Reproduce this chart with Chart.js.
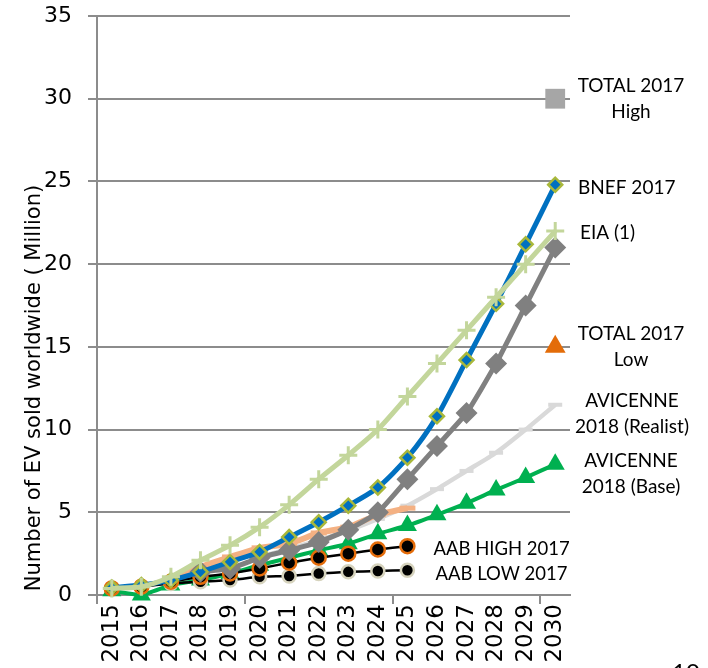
<!DOCTYPE html>
<html>
<head>
<meta charset="utf-8">
<script src="https://cdn.jsdelivr.net/npm/chart.js@4/dist/chart.umd.min.js"></script>
<style>
  html, body { margin: 0; padding: 0; background: #fff; overflow: hidden; }
  #wrap { position: relative; width: 708px; height: 668px; }
</style>
</head>
<body>
<div id="wrap"><canvas id="chart"></canvas></div>
<script>
const years = ['2015', '2016', '2017', '2018', '2019', '2020', '2021', '2022',
  '2023', '2024', '2025', '2026', '2027', '2028', '2029', '2030'];

// million EVs sold per year
const eia = [0.4, 0.5, 1.1, 2.1, 3.0, 4.1, 5.45, 7.0, 8.45, 10.0, 12.0, 14.0, 16.0, 18.0, 20.0, 22.0];
const bnef = [0.45, 0.6, 0.9, 1.4, 2.0, 2.6, 3.5, 4.4, 5.4, 6.5, 8.3, 10.8, 14.2, 17.6, 21.2, 24.8];
const grayScenario = [null, null, null, 1.4, 1.6, 2.25, 2.7, 3.2, 3.95, 5.0, 7.0, 9.0, 11.0, 14.0, 17.5, 21.0];
const aabHigh = [0.4, 0.5, 0.8, 1.1, 1.3, 1.6, 1.95, 2.25, 2.5, 2.75, 2.95, null, null, null, null, null];
const aabLow = [0.4, 0.5, 0.7, 0.8, 0.9, 1.1, 1.15, 1.3, 1.4, 1.45, 1.5, null, null, null, null, null];
const avicenneBase = [0.25, 0.0, 0.6, 0.9, 1.3, 1.8, 2.25, 2.7, 3.1, 3.7, 4.2, 4.85, 5.55, 6.35, 7.1, 7.9];
const salmonScenario = [null, null, 0.8, 1.7, 2.3, 2.85, 3.1, 3.75, 4.1, 4.85, 5.25, null, null, null, null, null];
const avicenneRealist = [null, null, null, null, null, 2.3, 2.8, 3.3, 3.9, 4.6, 5.4, 6.4, 7.5, 8.6, 10.0, 11.5];
const totalHigh = [null, null, null, null, null, null, null, null, null, null, null, null, null, null, null, 30];
const totalLow = [null, null, null, null, null, null, null, null, null, null, null, null, null, null, null, 15];

const yTicks = [0, 5, 10, 15, 20, 25, 30, 35];

const gridGray = '#8c8c8c';
const labelFont = '19px Lato';

// text next to the series, anchored on data values
const sideLabels = [
  { lines: ['TOTAL 2017', 'High'], value: 30, align: 'center', dx: 61 },
  { lines: ['BNEF 2017'], value: 24.6, align: 'left', dx: 8 },
  { lines: ['EIA (1)'], value: 21.9, align: 'left', dx: 10 },
  { lines: ['TOTAL 2017', 'Low'], value: 15, align: 'center', dx: 61 },
  { lines: ['AVICENNE', '2018 (Realist)'], value: 10.95, align: 'center', dx: 62 },
  { lines: ['AVICENNE', '2018 (Base)'], value: 7.3, align: 'center', dx: 61 },
];

const annotate = {
  id: 'annotate',
  afterDraw(chart) {
    const { ctx, chartArea, scales } = chart;
    const y = scales.y, x = scales.x;
    ctx.save();
    ctx.fillStyle = '#000';
    ctx.textBaseline = 'middle';
    ctx.font = labelFont;
    sideLabels.forEach(l => {
      const cy = y.getPixelForValue(l.value);
      const top = cy - (l.lines.length - 1) * 13;
      ctx.textAlign = l.align;
      l.lines.forEach((t, i) => ctx.fillText(t, chartArea.right + l.dx, top + i * 26));
    });
    ctx.textAlign = 'left';
    ctx.font = '18.5px Lato';
    const x2025 = x.getPixelForValue(10);
    ctx.fillText('AAB HIGH 2017', x2025 + 26, y.getPixelForValue(2.95) + 3);
    ctx.fillText('AAB LOW 2017', x2025 + 28, y.getPixelForValue(1.5) + 4);

    // axis title, placed like the original (lower than the plot centre)
    ctx.font = '21px "DejaVu Sans"';
    ctx.textAlign = 'center';
    ctx.translate(35, 388);
    ctx.rotate(-Math.PI / 2);
    ctx.fillText('Number of EV sold worldwide ( Million)', 0, 0);
    ctx.restore();

    // page number, cut by the bottom edge
    ctx.save();
    ctx.font = '24px Lato';
    ctx.textAlign = 'left';
    ctx.textBaseline = 'top';
    ctx.fillStyle = '#000';
    ctx.fillText('10', 672, 661);
    ctx.restore();
  }
};

const ctx = document.getElementById('chart').getContext('2d');
new Chart(ctx, {
  type: 'line',
  data: {
    labels: years,
    datasets: [
      {
        label: 'EIA (1)', data: eia,
        borderColor: '#c3d69b', borderWidth: 5, tension: 0.25,
        pointStyle: 'cross', pointRadius: 9, pointBorderWidth: 3,
        pointBorderColor: '#c3d69b', pointBackgroundColor: '#c3d69b',
      },
      {
        label: 'BNEF 2017', data: bnef,
        borderColor: '#0070c0', borderWidth: 5, tension: 0.25,
        pointStyle: 'rectRot', pointRadius: 7, pointBorderWidth: 2.5,
        pointBorderColor: '#a9b83a', pointBackgroundColor: '#0070c0',
      },
      {
        label: 'Scenario', data: grayScenario,
        borderColor: '#808080', borderWidth: 5, tension: 0.15,
        pointStyle: 'rectRot', pointRadius: 11, pointBorderWidth: 0,
        pointBackgroundColor: '#808080',
      },
      {
        label: 'AAB HIGH 2017', data: aabHigh,
        borderColor: '#000', borderWidth: 2.5, tension: 0.1,
        pointStyle: 'circle', pointRadius: 7, pointBorderWidth: 2.5,
        pointBorderColor: '#e46c0a', pointBackgroundColor: '#000',
      },
      {
        label: 'AAB LOW 2017', data: aabLow,
        borderColor: '#000', borderWidth: 2.5, tension: 0.1,
        pointStyle: 'circle', pointRadius: 6.5, pointBorderWidth: 2.5,
        pointBorderColor: '#d6d3bd', pointBackgroundColor: '#000',
      },
      {
        label: 'AVICENNE 2018 (Base)', data: avicenneBase,
        borderColor: '#00b050', borderWidth: 4, tension: 0.15,
        pointStyle: 'triangle', pointRadius: 11, pointBorderWidth: 0,
        pointBackgroundColor: '#00b050',
      },
      {
        label: 'Scenario 2', data: salmonScenario,
        borderColor: '#f4b183', borderWidth: 6, tension: 0.15,
        pointStyle: 'line', pointRadius: 8, pointBorderWidth: 5,
        pointBorderColor: '#f4b183',
      },
      {
        label: 'AVICENNE 2018 (Realist)', data: avicenneRealist,
        borderColor: '#d9d9d9', borderWidth: 4.5, tension: 0.2,
        pointStyle: 'line', pointRadius: 7, pointBorderWidth: 4,
        pointBorderColor: '#d9d9d9',
      },
      {
        label: 'TOTAL 2017 High', data: totalHigh,
        showLine: false, pointStyle: 'rect', pointRadius: 14, pointBorderWidth: 0,
        pointBackgroundColor: '#a6a6a6',
      },
      {
        label: 'TOTAL 2017 Low', data: totalLow,
        showLine: false, pointStyle: 'triangle', pointRadius: 12, pointBorderWidth: 0,
        pointBackgroundColor: '#e36c09',
      },
    ].map(d => Object.assign({ clip: false, spanGaps: false, pointHoverRadius: d.pointRadius }, d)),
  },
  options: {
    responsive: true,
    maintainAspectRatio: false,
    animation: false,
    layout: { autoPadding: false, padding: { left: 0, right: 138, top: 16, bottom: 0 } },
    plugins: {
      legend: { display: false },
      tooltip: { enabled: false },
    },
    scales: {
      x: {
        offset: true,
        grid: {
          offset: true,
          drawOnChartArea: false,
          drawTicks: true,
          tickLength: 9,
          lineWidth: 2,
          color: c => (c.index !== undefined && c.index % 5 === 0) ? gridGray : 'rgba(0,0,0,0)',
        },
        border: { color: gridGray, width: 2 },
        ticks: {
          autoSkip: false,
          minRotation: 90,
          maxRotation: 90,
          padding: 0,
          color: '#000',
          font: { family: 'DejaVu Sans', size: 23 },
        },
        afterFit(scale) {
          scale.height = 73;
          scale.paddingLeft = 0;
          scale.paddingRight = 0;
        },
      },
      y: {
        min: 0,
        max: 35,
        afterBuildTicks(scale) { scale.ticks = yTicks.map(v => ({ value: v })); },
        grid: { color: gridGray, lineWidth: 2, tickLength: 9 },
        border: { color: gridGray, width: 2 },
        ticks: {
          padding: 16,
          color: '#000',
          font: { family: 'DejaVu Sans', size: 22 },
        },
        afterFit(scale) {
          scale.width = 97;
          scale.paddingTop = 0;
          scale.paddingBottom = 0;
        },
      },
    },
  },
  plugins: [annotate],
});
</script>
</body>
</html>
